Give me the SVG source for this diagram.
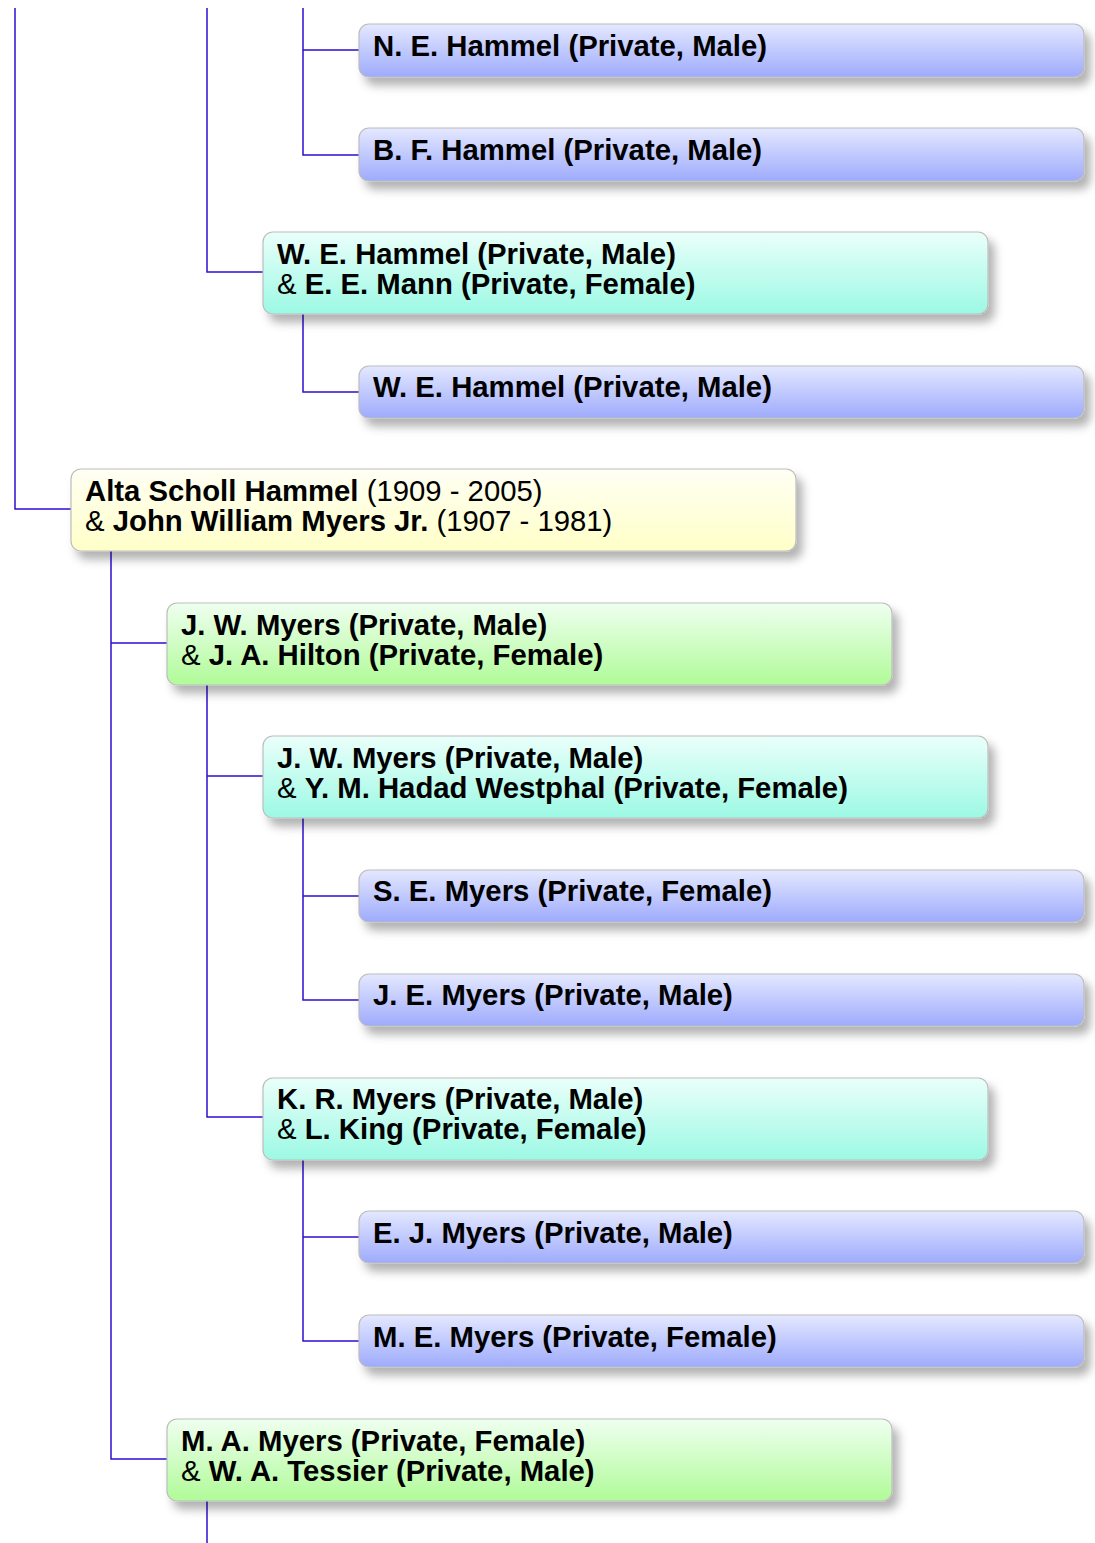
<svg xmlns="http://www.w3.org/2000/svg" width="1095" height="1543" viewBox="0 0 1095 1543">
<defs>
<linearGradient id="gB" x1="0" y1="0" x2="0" y2="1"><stop offset="0" stop-color="#e4e8ff"/><stop offset="1" stop-color="#9eabfc"/></linearGradient>
<linearGradient id="gC" x1="0" y1="0" x2="0" y2="1"><stop offset="0" stop-color="#eafffa"/><stop offset="1" stop-color="#9cf9e4"/></linearGradient>
<linearGradient id="gY" x1="0" y1="0" x2="0" y2="1"><stop offset="0" stop-color="#fffff4"/><stop offset="1" stop-color="#ffffc8"/></linearGradient>
<linearGradient id="gG" x1="0" y1="0" x2="0" y2="1"><stop offset="0" stop-color="#effff0"/><stop offset="1" stop-color="#b0fb98"/></linearGradient>
<filter id="sh" x="-5%" y="-30%" width="115%" height="180%"><feDropShadow dx="6" dy="8" stdDeviation="5" flood-color="#000" flood-opacity="0.3"/></filter>
</defs>
<style>
.box{stroke:#bdbdbd;stroke-width:1.2;filter:url(#sh)}
.b{fill:url(#gB)}.c{fill:url(#gC)}.y{fill:url(#gY)}.g{fill:url(#gG)}
text{font-family:"Liberation Sans",Arial,Helvetica,sans-serif;font-size:29.3px;fill:#000}
.bd{font-weight:bold}
.cn{fill:none;stroke:#2d0fd0;stroke-width:1.5}
</style>
<g id="connectors">
<path class="cn" d="M15 8V509H71"/>
<path class="cn" d="M207 8V272H263"/>
<path class="cn" d="M303 8V155H359M303 50H359"/>
<path class="cn" d="M303 314V392H359"/>
<path class="cn" d="M111 551V1459H167M111 643H167"/>
<path class="cn" d="M207 685V1117H263M207 776H263"/>
<path class="cn" d="M303 818V1000H359M303 896H359"/>
<path class="cn" d="M303 1160V1341H359M303 1237H359"/>
<path class="cn" d="M207 1501V1543"/>
</g>
<g id="n1"><rect class="box b" x="359" y="24" width="725" height="53" rx="10"/><text x="373" y="56" class="bd">N. E. Hammel (Private, Male)</text></g>
<g id="n2"><rect class="box b" x="359" y="128" width="725" height="53" rx="10"/><text x="373" y="160" class="bd">B. F. Hammel (Private, Male)</text></g>
<g id="n3"><rect class="box c" x="263" y="232" width="725" height="82" rx="10"/><text x="277" y="264" class="bd">W. E. Hammel (Private, Male)</text><text x="277" y="293.5">&amp; <tspan class="bd">E. E. Mann (Private, Female)</tspan></text></g>
<g id="n4"><rect class="box b" x="359" y="366" width="725" height="52" rx="10"/><text x="373" y="397" class="bd">W. E. Hammel (Private, Male)</text></g>
<g id="n5"><rect class="box y" x="71" y="469" width="725" height="82" rx="10"/><text x="85" y="501"><tspan class="bd">Alta Scholl Hammel</tspan> (1909 - 2005)</text><text x="85" y="530.5">&amp; <tspan class="bd">John William Myers Jr.</tspan> (1907 - 1981)</text></g>
<g id="n6"><rect class="box g" x="167" y="603" width="725" height="82" rx="10"/><text x="181" y="635" class="bd">J. W. Myers (Private, Male)</text><text x="181" y="664.5">&amp; <tspan class="bd">J. A. Hilton (Private, Female)</tspan></text></g>
<g id="n7"><rect class="box c" x="263" y="736" width="725" height="82" rx="10"/><text x="277" y="768" class="bd">J. W. Myers (Private, Male)</text><text x="277" y="797.5">&amp; <tspan class="bd">Y. M. Hadad Westphal (Private, Female)</tspan></text></g>
<g id="n8"><rect class="box b" x="359" y="870" width="725" height="52" rx="10"/><text x="373" y="901" class="bd">S. E. Myers (Private, Female)</text></g>
<g id="n9"><rect class="box b" x="359" y="974" width="725" height="52" rx="10"/><text x="373" y="1005" class="bd">J. E. Myers (Private, Male)</text></g>
<g id="n10"><rect class="box c" x="263" y="1078" width="725" height="82" rx="10"/><text x="277" y="1109" class="bd">K. R. Myers (Private, Male)</text><text x="277" y="1139">&amp; <tspan class="bd">L. King (Private, Female)</tspan></text></g>
<g id="n11"><rect class="box b" x="359" y="1211" width="725" height="52" rx="10"/><text x="373" y="1243" class="bd">E. J. Myers (Private, Male)</text></g>
<g id="n12"><rect class="box b" x="359" y="1315" width="725" height="52" rx="10"/><text x="373" y="1347" class="bd">M. E. Myers (Private, Female)</text></g>
<g id="n13"><rect class="box g" x="167" y="1419" width="725" height="82" rx="10"/><text x="181" y="1451" class="bd">M. A. Myers (Private, Female)</text><text x="181" y="1480.5">&amp; <tspan class="bd">W. A. Tessier (Private, Male)</tspan></text></g>
</svg>
